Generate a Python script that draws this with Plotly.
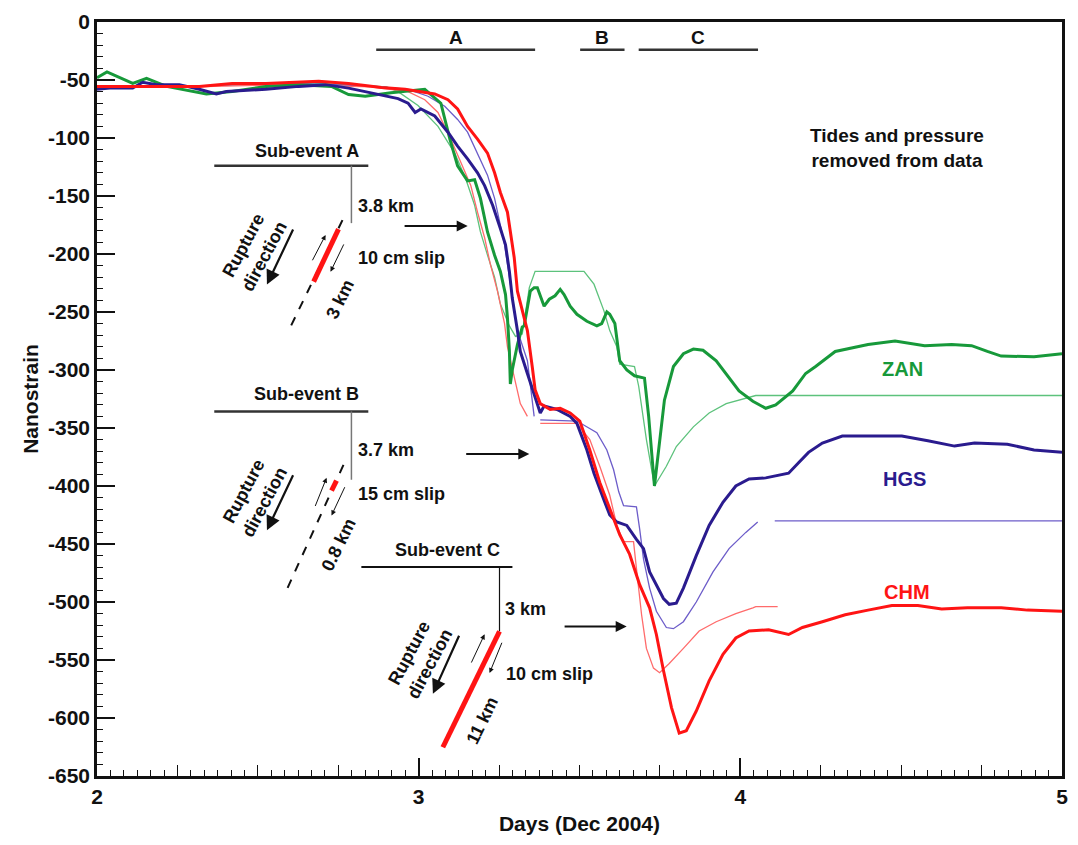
import plotly.graph_objects as go

# ---------------------------------------------------------------------------
# Strain records (days in Dec 2004, nanostrain)
# ---------------------------------------------------------------------------
zan_obs_day = [2.000, 2.031, 2.111, 2.154, 2.216, 2.340, 2.420, 2.525, 2.627, 2.729,
               2.782, 2.834, 2.914, 2.976, 3.019, 3.069, 3.081, 3.097, 3.121, 3.152,
               3.174, 3.192, 3.214, 3.236, 3.254, 3.270, 3.276, 3.282, 3.285, 3.291,
               3.307, 3.322, 3.328, 3.347, 3.359, 3.369, 3.390, 3.406, 3.424, 3.440,
               3.452, 3.471, 3.492, 3.523, 3.554, 3.569, 3.585, 3.594, 3.610, 3.625,
               3.647, 3.671, 3.702, 3.715, 3.733, 3.749, 3.764, 3.792, 3.823, 3.854,
               3.884, 3.925, 3.956, 3.996, 4.039, 4.079, 4.110, 4.163, 4.203, 4.234,
               4.295, 4.397, 4.481, 4.573, 4.657, 4.719, 4.768, 4.811, 4.913, 5.000]
zan_obs_val = [-48, -43, -53, -48.5, -55.5, -62, -60, -55.5, -54, -55.5,
               -62.5, -64, -61, -59, -58, -70, -84, -101, -124, -137,
               -136, -152, -181, -201, -215, -235, -255, -283, -312, -300,
               -278, -263, -262, -232, -229, -229, -245, -239, -236, -230.5,
               -235, -245, -252, -258, -262, -260, -250, -252, -260, -292,
               -300, -305, -307, -340, -400, -363, -326, -297, -286, -282,
               -283, -292, -303, -318, -327, -333, -330, -318, -303, -297,
               -284, -278, -275, -279, -278, -279, -284, -288, -288.5, -286]

zan_mod_day = [2.000, 2.200, 2.500, 2.700, 2.900, 2.936, 2.998, 3.060, 3.112, 3.146,
               3.174, 3.192, 3.214, 3.236, 3.254, 3.282, 3.301, 3.322, 3.344, 3.362,
               3.514, 3.545, 3.576, 3.594, 3.616, 3.625, 3.671, 3.684, 3.708, 3.733,
               3.770, 3.801, 3.854, 3.903, 3.956, 4.008, 4.048, 5.000]
zan_mod_val = [-55, -56, -54, -53, -56, -60, -72, -90, -113, -135,
               -158, -181, -201, -220, -243, -262, -271, -269, -229, -215,
               -215, -226, -249, -266, -280, -295, -297, -314, -360, -400,
               -383, -366, -349, -337, -329, -325, -322, -322]

hgs_obs_day = [2.000, 2.040, 2.111, 2.142, 2.185, 2.256, 2.318, 2.371, 2.402, 2.525,
               2.627, 2.711, 2.782, 2.834, 2.914, 2.936, 2.967, 2.989, 3.007, 3.050,
               3.091, 3.121, 3.152, 3.183, 3.205, 3.230, 3.254, 3.270, 3.282, 3.291,
               3.307, 3.316, 3.338, 3.359, 3.378, 3.390, 3.430, 3.471, 3.492, 3.523,
               3.545, 3.576, 3.594, 3.616, 3.647, 3.677, 3.699, 3.718, 3.739, 3.761,
               3.779, 3.801, 3.823, 3.863, 3.903, 3.946, 3.986, 4.027, 4.079, 4.150,
               4.181, 4.212, 4.255, 4.317, 4.397, 4.502, 4.583, 4.666, 4.728, 4.830,
               4.913, 5.000]
hgs_obs_val = [-58, -57, -57, -52, -54, -54, -58, -62, -60, -58,
               -55.5, -54, -57, -60, -64.6, -66, -70, -78, -75, -81,
               -95, -107, -118, -130, -141, -158, -178, -192, -215, -238,
               -266, -284, -303, -320, -337, -331, -334, -340, -346, -369,
               -389, -412, -425, -431, -434, -446, -454, -474, -485, -497,
               -502, -501, -488, -460, -434, -414, -400, -394, -393, -389,
               -380, -371, -363, -357, -357, -357, -361, -365.6, -363, -364,
               -369, -371]

hgs_mod_day = [2.000, 2.300, 2.600, 2.850, 2.967, 3.029, 3.081, 3.121, 3.152, 3.183,
               3.214, 3.236, 3.251, 3.267, 3.282, 3.297, 3.307, 3.338, 3.347, 3.359,
               None,
               3.378, 3.492, 3.554, 3.585, 3.606, 3.622, 3.637, 3.677, 3.687, 3.699,
               3.718, 3.739, 3.770, 3.792, 3.823, 3.863, 3.915, 3.965, 4.017, 4.054,
               None,
               4.107, 5.000]
hgs_mod_val = [-56, -55, -53, -55, -58, -64, -72.6, -84, -95, -113,
               -132, -152, -172, -192, -220, -249, -266, -292, -312, -340,
               None,
               -343, -344, -354, -369, -386, -405, -417, -418, -437, -463,
               -488, -508, -522, -523, -517, -500, -474, -454, -440, -431,
               None,
               -430, -430]

chm_obs_day = [2.000, 2.111, 2.318, 2.420, 2.525, 2.689, 2.782, 2.884, 2.958, 3.050,
               3.091, 3.121, 3.152, 3.183, 3.214, 3.236, 3.254, 3.276, 3.285, 3.297,
               3.307, 3.322, 3.338, 3.353, 3.362, 3.378, 3.409, 3.440, 3.471, 3.501,
               3.532, 3.563, 3.594, 3.625, 3.656, 3.687, 3.718, 3.739, 3.761, 3.786,
               3.810, 3.832, 3.863, 3.903, 3.946, 3.986, 4.027, 4.088, 4.150, 4.193,
               4.255, 4.326, 4.397, 4.471, 4.552, 4.626, 4.706, 4.811, 4.892, 5.000]
chm_obs_val = [-55.5, -55.5, -55.5, -53, -53, -51, -53, -56.4, -58, -62,
               -67, -75, -90, -101, -113, -130, -147, -164, -181, -203,
               -232, -249, -266, -297, -317, -329, -334, -333, -337, -344,
               -369, -397, -420, -442, -459, -485, -505, -528, -559, -591,
               -613, -611, -594, -568, -545, -531, -525, -524, -528, -522,
               -517, -511, -507, -503, -503, -506, -505, -505, -507, -508]

chm_mod_day = [2.000, 2.300, 2.600, 2.850, 2.967, 3.019, 3.060, 3.100, 3.131, 3.162,
               3.183, 3.205, 3.223, 3.245, 3.267, 3.276, 3.297, 3.316, 3.338,
               None,
               3.378, 3.492, 3.532, 3.563, 3.594, 3.616, 3.637, 3.668, 3.677, 3.693,
               3.708, 3.730, 3.749, 3.779, 3.823, 3.872, 3.925, 3.986, 4.039, 4.048,
               4.116]
chm_mod_val = [-55, -56, -54, -56, -60, -67, -78, -101, -121, -141,
               -164, -186, -209, -232, -260, -280, -306, -329, -340,
               None,
               -346, -346, -360, -383, -408, -434, -448, -448, -471, -511,
               -540, -557, -561, -553, -540, -525, -517, -510, -505, -504,
               -504]

# Sub-event time windows (days) and their labels
phase_names = ["A", "B", "C"]
phase_start = [2.868, 3.502, 3.684]
phase_end = [3.362, 3.640, 4.055]

# Axis ticks
x_tick_vals = [2, 3, 4, 5]
y_tick_vals = list(range(0, -651, -50))
y_tick_text = [str(v) for v in y_tick_vals]

# ---------------------------------------------------------------------------
GREEN, GREEN_L = "#17993A", "#5DC27C"
BLUE, BLUE_L = "#2A1B8E", "#6C5CC9"
RED, RED_L = "#FF1414", "#FF6B6B"
INK = "#111111"
FONT = "Liberation Sans"
NARROW = "Liberation Sans Narrow, Liberation Sans, Arial"
TXT = 18

fig = go.Figure()

# model curves (thin) under the observed records (thick)
for d, v, c in [(zan_mod_day, zan_mod_val, GREEN_L),
                (hgs_mod_day, hgs_mod_val, BLUE_L),
                (chm_mod_day, chm_mod_val, RED_L)]:
    fig.add_trace(go.Scatter(x=d, y=v, mode="lines", line=dict(color=c, width=1.3),
                             connectgaps=False, showlegend=False, hoverinfo="skip"))
for d, v, c in [(zan_obs_day, zan_obs_val, GREEN),
                (hgs_obs_day, hgs_obs_val, BLUE),
                (chm_obs_day, chm_obs_val, RED)]:
    fig.add_trace(go.Scatter(x=d, y=v, mode="lines", line=dict(color=c, width=3),
                             showlegend=False, hoverinfo="skip"))

# carrier for the 6-hour tick axis
fig.add_trace(go.Scatter(x=[2, 5], y=[None, None], xaxis="x2", mode="lines",
                         showlegend=False, hoverinfo="skip"))

# ---------------------------------------------------------------------------
# Sketch helpers: sketches are laid out in figure pixels and mapped to data.
X0, X1, XPX0, XPX1 = 2.0, 5.0, 97.0, 1068.0
Y0, Y1, YPX0, YPX1 = 0.0, -650.0, 15.0, 776.0


def dx(px):
    return X0 + (px - XPX0) * (X1 - X0) / (XPX1 - XPX0)


def dy(py):
    return Y0 + (py - YPX0) * (Y1 - Y0) / (YPX1 - YPX0)


def seg(p0, p1, color=INK, width=1.5, dash="solid"):
    fig.add_shape(type="line", xref="x", yref="y",
                  x0=dx(p0[0]), y0=dy(p0[1]), x1=dx(p1[0]), y1=dy(p1[1]),
                  line=dict(color=color, width=width, dash=dash))


def arrow(tail, head, width=1.5, size=1.0, head_style=2):
    fig.add_annotation(x=dx(head[0]), y=dy(head[1]), ax=dx(tail[0]), ay=dy(tail[1]),
                       xref="x", yref="y", axref="x", ayref="y", text="",
                       showarrow=True, arrowhead=head_style, arrowsize=size,
                       arrowwidth=width, arrowcolor=INK)


def label(p, text, size=TXT, color=INK, angle=0, xanchor="center", family=FONT):
    fig.add_annotation(x=dx(p[0]), y=dy(p[1]), xref="x", yref="y", text=text,
                       showarrow=False, textangle=angle, xanchor=xanchor,
                       yanchor="middle",
                       font=dict(family=family, size=size, color=color, weight="bold"))


# Sub-event time windows along the top
for name, s, e in zip(phase_names, phase_start, phase_end):
    fig.add_shape(type="line", xref="x", yref="y", x0=s, x1=e, y0=dy(43), y1=dy(43),
                  line=dict(color="#333333", width=2.5))
    fig.add_annotation(x=(s + e) / 2, y=dy(31), xref="x", yref="y", text=name,
                       showarrow=False, font=dict(family=FONT, size=19, color=INK,
                                                  weight="bold"))

# --- Sub-event A ---
label((308, 145), "Sub-event A")
seg((215, 160), (370, 160), color="#333333", width=2.5)
seg((353, 160), (353, 218), color="#777777", width=1.5)
label((358, 201), "3.8 km", xanchor="left")
label((358, 253), "10 cm slip", xanchor="left")
seg((344, 215), (292, 322), dash="dash", width=2)
seg((340, 224), (315, 277), color=RED, width=5)
arrow((313, 257), (327, 230), width=1, size=1, head_style=2)
arrow((346, 238), (332, 267), width=1, size=1, head_style=2)
arrow((405, 221), (470, 221), width=2, size=1.1, head_style=2)
arrow((295, 223), (268, 280), width=2.2, size=1.3, head_style=2)
label((255, 246), "Rupture<br>direction", angle=-62)
label((342, 295), "3 km", angle=-64)

# --- Sub-event B ---
label((308, 390), "Sub-event B")
seg((215, 408), (370, 408), color="#333333", width=2.5)
seg((353, 408), (353, 477), color="#777777", width=1.5)
label((358, 447), "3.7 km", xanchor="left")
label((358, 491), "15 cm slip", xanchor="left")
seg((345, 462), (287, 590), dash="dash", width=2)
seg((338, 478), (333, 488), color=RED, width=5)
arrow((316, 505), (328, 475), width=1, size=1, head_style=2)
arrow((347, 483), (333, 513), width=1, size=1, head_style=2)
arrow((467, 451), (532, 451), width=2, size=1.1, head_style=2)
arrow((295, 471), (268, 528), width=2.2, size=1.3, head_style=2)
label((255, 494), "Rupture<br>direction", angle=-62)
label((340, 543), "0.8 km", angle=-64)

# --- Sub-event C ---
label((450, 548), "Sub-event C")
seg((363, 565), (515, 565), color=INK, width=2)
seg((502, 565), (502, 630), color=INK, width=1.2)
label((506, 607), "3 km", xanchor="left")
label((507, 673), "10 cm slip", xanchor="left")
seg((502, 630), (445, 747), color=RED, width=5)
arrow((473, 663), (487, 633), width=1, size=1, head_style=2)
arrow((505, 640), (492, 672), width=1, size=1, head_style=2)
arrow((566, 625), (630, 625), width=2, size=1.1, head_style=2)
arrow((462, 633), (435, 693), width=2.2, size=1.3, head_style=2)
label((421, 657), "Rupture<br>direction", angle=-62)
label((484, 720), "11 km", angle=-64)

# Station names and note
label((908, 365), "ZAN", size=20, color=GREEN)
label((910, 476), "HGS", size=20, color=BLUE)
label((912, 590), "CHM", size=20, color=RED)
label((902, 142), "Tides and pressure<br>removed from data", size=19)

# ---------------------------------------------------------------------------
hour_ticks = [2 + i / 24 for i in range(0, 73) if i % 6 != 0]
quarter_ticks = [2 + i / 4 for i in range(0, 13) if i % 4 != 0]
y_minor = [v for v in range(0, -651, -10) if v % 50 != 0]

fig.update_layout(
    width=1078, height=845,
    margin=dict(l=97, r=10, t=15, b=69),
    plot_bgcolor="white", paper_bgcolor="white",
    showlegend=False,
    xaxis=dict(range=[2, 5], tickmode="array", tickvals=x_tick_vals,
               ticktext=[str(v) for v in x_tick_vals],
               ticks="inside", ticklen=18, tickwidth=1.5, tickcolor=INK,
               showgrid=False, zeroline=False,
               showline=True, linewidth=2.5, linecolor=INK, mirror=True,
               tickfont=dict(family=NARROW, size=21, color=INK, weight="bold"),
               title=dict(text="Days (Dec 2004)", standoff=10,
                          font=dict(family=NARROW, size=21, color=INK, weight="bold")),
               minor=dict(tickmode="array", tickvals=hour_ticks, ticks="inside",
                          ticklen=6, tickwidth=1.2, tickcolor=INK, showgrid=False)),
    xaxis2=dict(range=[2, 5], overlaying="x", anchor="y", side="bottom",
                tickmode="array", tickvals=quarter_ticks, ticks="inside",
                ticklen=11, tickwidth=1.3, tickcolor=INK, showticklabels=False,
                showgrid=False, zeroline=False, showline=False),
    yaxis=dict(range=[-650, 0], tickmode="array", tickvals=y_tick_vals,
               ticktext=y_tick_text, ticks="inside", ticklen=18, tickwidth=1.5,
               tickcolor=INK, showgrid=False, zeroline=False,
               showline=True, linewidth=2.5, linecolor=INK, mirror=True,
               tickfont=dict(family=NARROW, size=21, color=INK, weight="bold"),
               title=dict(text="Nanostrain", standoff=4,
                          font=dict(family=NARROW, size=21, color=INK, weight="bold")),
               minor=dict(tickmode="array", tickvals=y_minor, ticks="inside",
                          ticklen=6, tickwidth=1.2, tickcolor=INK, showgrid=False)),
)

fig.write_html("out.html")
